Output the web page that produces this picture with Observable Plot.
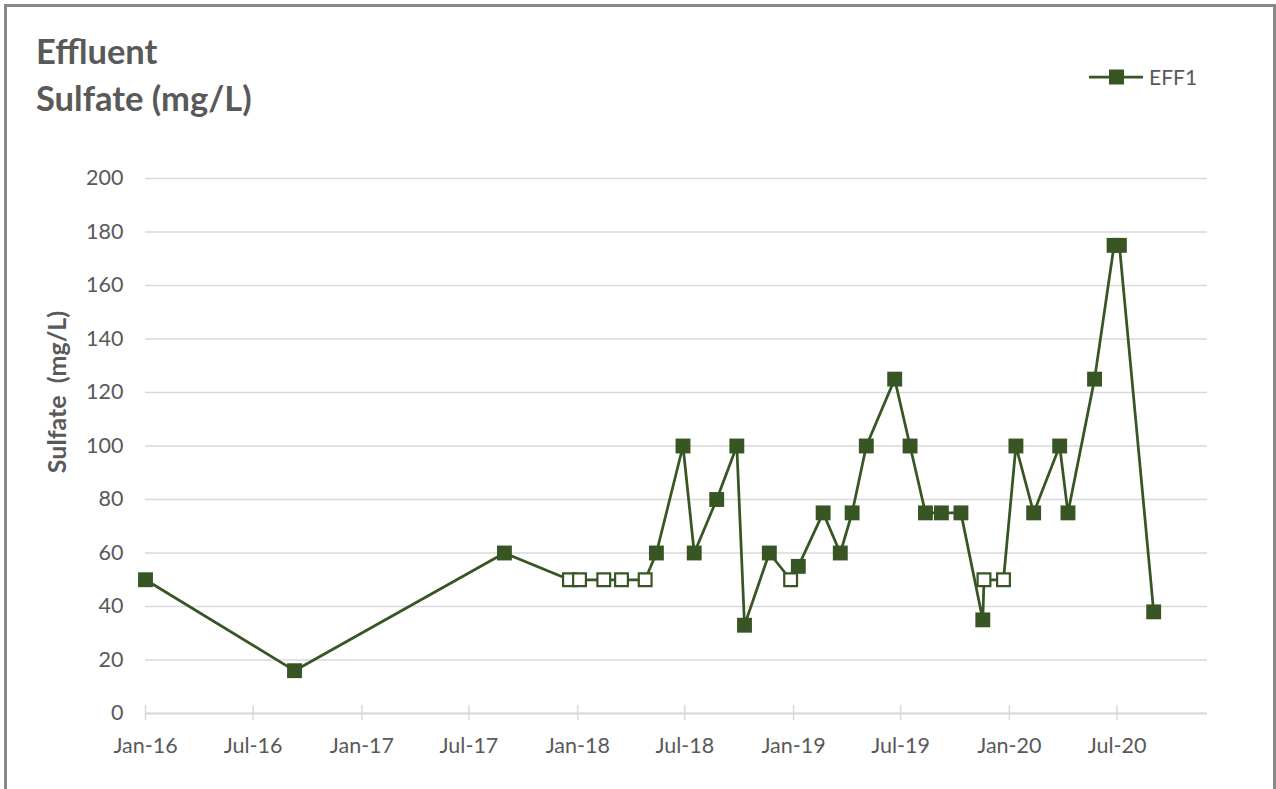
<!DOCTYPE html>
<html><head><meta charset="utf-8">
<script src="https://cdn.jsdelivr.net/npm/d3@7"></script>
<script src="https://cdn.jsdelivr.net/npm/@observablehq/plot@0.6"></script>
<style>
body{margin:0;background:#fff;font-family:Lato, sans-serif;}
#wrap{position:relative;width:1276px;height:789px;overflow:hidden;background:#fff;}
#frame{position:absolute;left:4px;top:4px;width:1272px;height:820px;border:3px solid #898989;box-sizing:border-box;pointer-events:none;z-index:3;}
#chart{position:absolute;left:0;top:0;}
#overlay{position:absolute;left:0;top:0;z-index:2;pointer-events:none;}
</style>
</head><body>
<div id="wrap"><div id="chart"></div><svg id="overlay" width="1276" height="789"></svg><div id="frame"></div></div>
<script>
// ---- data ----
const seriesName = "EFF1";
const dates = ["2016-01-01","2016-09-09","2017-08-30","2017-12-18","2018-01-04","2018-02-14","2018-03-16","2018-04-25","2018-05-14","2018-06-28","2018-07-17","2018-08-24","2018-09-27","2018-10-10","2018-11-21","2018-12-27","2019-01-09","2019-02-20","2019-03-21","2019-04-10","2019-05-04","2019-06-21","2019-07-17","2019-08-12","2019-09-08","2019-10-11","2019-11-17","2019-11-19","2019-12-22","2020-01-12","2020-02-11","2020-03-26","2020-04-09","2020-05-24","2020-06-26","2020-07-05","2020-09-01"];
const values = [50,16,60,50,50,50,50,50,60,100,60,80,100,33,60,50,55,75,60,75,100,125,100,75,75,75,35,50,50,100,75,100,75,125,175,175,38];
// 1 = hollow marker (non-detect), 0 = filled marker
const nonDetect = [0,0,0,1,1,1,1,1,0,0,0,0,0,0,0,1,0,0,0,0,0,0,0,0,0,0,0,1,1,0,0,0,0,0,0,0,0];
const yTicks = [0,20,40,60,80,100,120,140,160,180,200];
const xTickDates = ["2016-01-01","2016-07-01","2017-01-01","2017-07-01","2018-01-01","2018-07-01","2019-01-01","2019-07-01","2020-01-01","2020-07-01"];
const xDomain = ["2016-01-01","2020-12-01"];
const titleLines = ["Effluent","Sulfate (mg/L)"];
const yLabel = "Sulfate  (mg/L)";

const green = "#375623", textGray = "#595959", gridGray = "#d9d9d9";
const data = dates.map((d,i)=>({date:new Date(d+"T00:00:00Z"), value:values[i], nd:nonDetect[i]}));
const xTicks = xTickDates.map(d=>new Date(d+"T00:00:00Z"));

const chart = Plot.plot({
  width:1276, height:789,
  marginLeft:145, marginRight:69, marginTop:178, marginBottom:76,
  style:{fontFamily:"Lato, sans-serif", fontSize:"21px", color:textGray, background:"transparent", overflow:"visible"},
  x:{type:"utc", domain:xDomain.map(d=>new Date(d+"T00:00:00Z"))},
  y:{domain:[0,200]},
  marks:[
    Plot.gridY(yTicks, {stroke:gridGray, strokeOpacity:1, strokeWidth:1.5}),
    Plot.ruleY([0], {stroke:gridGray, strokeWidth:2}),
    Plot.axisY(yTicks, {tickSize:0, tickPadding:22, fontSize:21.5, fill:textGray, label:null}),
    Plot.axisX(xTicks, {tickSize:0, tickPadding:24, fontSize:21.5, fill:textGray, label:null, tickFormat:d3.utcFormat("%b-%y")}),
    Plot.axisX(xTicks, {tickSize:15, dy:-8, tickFormat:()=>"", label:null, stroke:gridGray, strokeWidth:1.5}),
    Plot.line(data, {x:"date", y:"value", stroke:green, strokeWidth:2.75}),
    Plot.dot(data.filter(d=>!d.nd), {x:"date", y:"value", symbol:"square", r:8.4, fill:green, stroke:"none"}),
    Plot.dot(data.filter(d=>d.nd), {x:"date", y:"value", symbol:"square", r:7.2, fill:"white", stroke:green, strokeWidth:2.2})
  ]
});
document.getElementById("chart").appendChild(chart);

// overlay texts and legend
const ov = d3.select("#overlay");
ov.selectAll("text.title").data(titleLines).join("text").attr("class","title")
  .attr("x",36).attr("y",(d,i)=>64+i*47)
  .attr("font-family","Lato, sans-serif").attr("font-weight","bold").attr("font-size",34.5)
  .attr("fill",textGray).text(d=>d);
ov.append("text").attr("transform","translate(66,392) rotate(-90)")
  .attr("text-anchor","middle").attr("font-family","Lato, sans-serif").attr("font-weight","bold")
  .attr("font-size",25).attr("fill",textGray).attr("xml:space","preserve").style("white-space","pre").text(yLabel);
const lg = ov.append("g");
lg.append("line").attr("x1",1089).attr("x2",1143).attr("y1",77).attr("y2",77).attr("stroke",green).attr("stroke-width",2.75);
lg.append("rect").attr("x",1109).attr("y",69.5).attr("width",15).attr("height",15).attr("fill",green);
lg.append("text").attr("x",1149).attr("y",85).attr("font-family","Lato, sans-serif").attr("font-size",21).attr("fill",textGray).text(seriesName);
</script>
</body></html>
